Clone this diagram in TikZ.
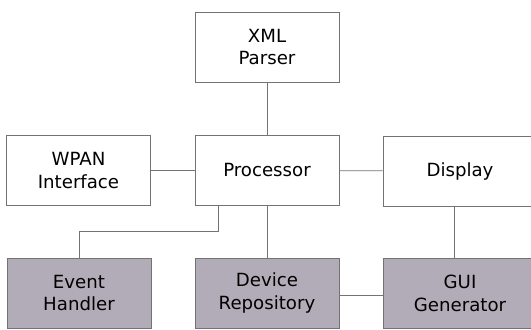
\documentclass[tikz,border=0pt]{standalone}
\usepackage{fontspec}
\setmainfont{DejaVu Sans}
\usetikzlibrary{calc}

\begin{document}
\begin{tikzpicture}[x=0.03cm,y=-0.03cm]
  % Colors
    \definecolor{boxgrey}{RGB}{178,172,184}
    \colorlet{linecolor}{black!55}

  % Styles
    \tikzstyle{block}=[draw=linecolor,line width=0.6pt,minimum width=4.32cm,
      minimum height=2.1cm,align=center,font=\fontsize{15.5}{19.5}\selectfont]
    \tikzstyle{shaded}=[block,fill=boxgrey]
    \tikzstyle{wide}=[minimum width=4.62cm]
    \tikzstyle{link}=[draw=linecolor,line width=0.6pt]

  % The graphic
    \useasboundingbox (0,0) rectangle (531,329);

    \node[block] (xml) at (267,47) {XML\\Parser};
    \node[block] (wpan) at (78.5,170.5) {WPAN\\Interface};
    \node[block] (proc) at (267,170.5) {Processor};
    \node[block,wide] (disp) at (460,171) {Display};

    \node[shaded] (event) at (79,293) {Event\\Handler};
    \node[shaded] (dev) at (267,293) {Device\\Repository};
    \node[shaded,wide] (gui) at (460,293) {GUI\\Generator};

    \coordinate (turn) at (218,231);
    \coordinate (down) at (454,0);

    \draw[link] (xml) -- (proc);
    \draw[link] (wpan) -- (proc);
    \draw[link] (proc) -- (disp);
    \draw[link] (proc.south -| turn) -- (turn) -| (event.north);
    \draw[link] (proc) -- (dev);
    \draw[link] (disp.south -| down) -- (gui.north -| down);
    \draw[link] ([yshift=-0.06cm]dev.east) -- ([yshift=-0.06cm]gui.west);
  \end{tikzpicture}
\end{document}
